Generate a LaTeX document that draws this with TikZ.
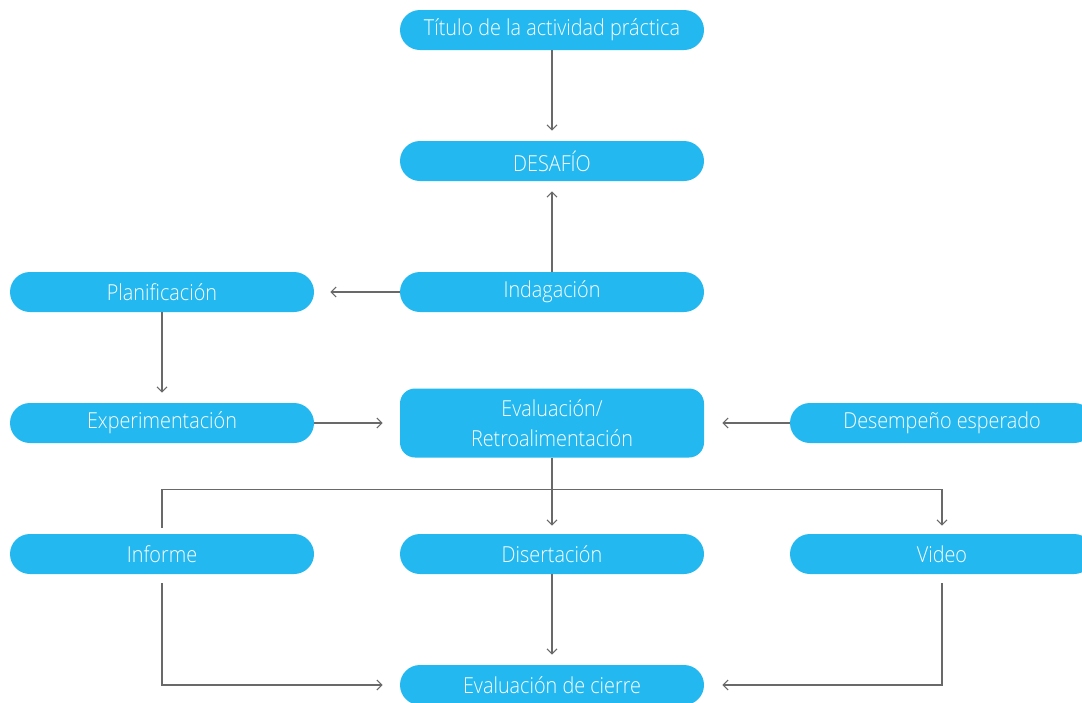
\documentclass[tikz,border=0pt]{standalone}
\usepackage{fontspec}
\setmainfont{Open Sans}[UprightFont=* Light, FakeStretch=0.9]
\usetikzlibrary{positioning,arrows.meta}
\definecolor{celeste}{RGB}{35,184,240}
\definecolor{gris}{RGB}{105,105,105}
\begin{document}
\begin{tikzpicture}[
	x=0.5pt, y=-0.5pt,
	node distance=65.5pt and 195pt, on grid,
	caja/.style={fill=celeste, text=white, rounded corners=10pt,
		minimum width=152pt, minimum height=20pt, inner sep=0pt,
		font=\fontsize{11pt}{15pt}\selectfont},
	flecha/.style={draw=gris, line width=0.55pt,
		-{Straight Barb[length=2.5pt,width=5pt]}}
]
\useasboundingbox (0,0) rectangle (1082,702);
\node[caja] (titulo) at (552,30) {Título de la actividad práctica};
\node[caja, below=of titulo] (desafio) {DESAFÍO};
\node[caja, below=of desafio] (indagacion) {Indagación};
\node[caja, left=of indagacion] (planif) {Planificación};
\node[caja, below=of indagacion, minimum height=34.5pt, rounded corners=7.5pt,
	align=center] (evalua) {Evaluación/\\Retroalimentación};
\node[caja, left=of evalua] (experim) {Experimentación};
\node[caja, right=of evalua] (desemp) {Desempeño esperado};
\node[caja, below=of evalua] (disert) {Disertación};
\node[caja, left=of disert] (informe) {Informe};
\node[caja, right=of disert] (video) {Video};
\node[caja, below=of disert] (cierre) {Evaluación de cierre};
\coordinate[below=16pt of evalua.south] (reparto);
\draw[flecha, shorten >=5pt] (titulo) -- (desafio);
\draw[flecha, shorten >=5pt] (indagacion) -- (desafio);
\draw[flecha, shorten >=8pt] (indagacion) -- (planif);
\draw[flecha, shorten >=5pt] (planif) -- (experim);
\draw[flecha, shorten >=8.5pt] (experim) -- (evalua);
\draw[flecha, shorten >=9pt] (desemp) -- (evalua);
\draw[flecha, shorten >=4pt] (evalua) -- (disert);
\draw[flecha, shorten <=3pt, shorten >=4pt] (informe.north) |- (reparto) -| (video.north);
\draw[flecha, shorten >=5pt] (disert) -- (cierre);
\draw[flecha, shorten <=4.5pt, shorten >=8.5pt] (informe.south) |- (cierre);
\draw[flecha, shorten <=4.5pt, shorten >=9pt] (video.south) |- (cierre);
\end{tikzpicture}
\end{document}
